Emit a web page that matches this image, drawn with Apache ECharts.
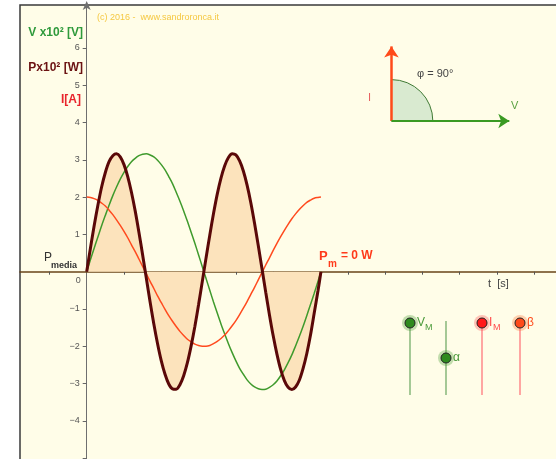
<!DOCTYPE html>
<html>
<head>
<meta charset="utf-8">
<script src="https://cdn.jsdelivr.net/npm/echarts@6/dist/echarts.min.js"></script>
<style>
  html, body { margin: 0; padding: 0; background: #ffffff; }
  #chart { width: 556px; height: 459px; }
</style>
</head>
<body>
<div id="chart"></div>
<script>
// Phase angle ωt in radians over one period
const phases = [0, 0.1, 0.2, 0.3, 0.4, 0.5, 0.6, 0.7, 0.8, 0.9, 1.0, 1.1, 1.2, 1.3, 1.4, 1.5,
  1.6, 1.7, 1.8, 1.9, 2.0, 2.1, 2.2, 2.3, 2.4, 2.5, 2.6, 2.7, 2.8, 2.9, 3.0, 3.1,
  3.2, 3.3, 3.4, 3.5, 3.6, 3.7, 3.8, 3.9, 4.0, 4.1, 4.2, 4.3, 4.4, 4.5, 4.6, 4.7,
  4.8, 4.9, 5.0, 5.1, 5.2, 5.3, 5.4, 5.5, 5.6, 5.7, 5.8, 5.9, 6.0, 6.1, 6.2, 6.28];
// Voltage (x10^2 V)
const voltage = [0, 0.32, 0.63, 0.93, 1.23, 1.51, 1.78, 2.04, 2.27, 2.48, 2.66, 2.82, 2.95, 3.04, 3.11, 3.15,
  3.16, 3.13, 3.08, 2.99, 2.87, 2.73, 2.55, 2.36, 2.13, 1.89, 1.63, 1.35, 1.06, 0.76, 0.45, 0.13,
  -0.18, -0.50, -0.81, -1.11, -1.40, -1.67, -1.93, -2.17, -2.39, -2.59, -2.75, -2.90, -3.01, -3.09, -3.14, -3.16,
  -3.15, -3.10, -3.03, -2.93, -2.79, -2.63, -2.44, -2.23, -1.99, -1.74, -1.47, -1.18, -0.88, -0.58, -0.26, 0];
// Current (A)
const current = [2.00, 1.99, 1.96, 1.91, 1.84, 1.76, 1.65, 1.53, 1.39, 1.24, 1.08, 0.91, 0.72, 0.54, 0.34, 0.14,
  -0.06, -0.26, -0.45, -0.65, -0.83, -1.01, -1.18, -1.33, -1.47, -1.60, -1.71, -1.81, -1.88, -1.94, -1.98, -2.00,
  -2.00, -1.98, -1.93, -1.87, -1.79, -1.70, -1.58, -1.45, -1.31, -1.15, -0.98, -0.80, -0.61, -0.42, -0.22, -0.02,
  0.18, 0.37, 0.57, 0.76, 0.94, 1.11, 1.27, 1.42, 1.55, 1.67, 1.77, 1.86, 1.92, 1.97, 1.99, 2.00];
// Instantaneous power (x10^2 W)
const power = [0, 0.63, 1.23, 1.78, 2.27, 2.66, 2.95, 3.11, 3.16, 3.08, 2.87, 2.55, 2.13, 1.63, 1.06, 0.45,
  -0.18, -0.81, -1.40, -1.93, -2.39, -2.75, -3.01, -3.14, -3.15, -3.03, -2.79, -2.44, -1.99, -1.47, -0.88, -0.26,
  0.37, 0.98, 1.56, 2.08, 2.51, 2.84, 3.06, 3.16, 3.13, 2.97, 2.70, 2.32, 1.85, 1.30, 0.70, 0.08,
  -0.55, -1.16, -1.72, -2.21, -2.62, -2.92, -3.10, -3.16, -3.09, -2.91, -2.60, -2.20, -1.70, -1.11, -0.52, 0];

// Axis ticks
const xTicks = [-1, 1, 2, 3, 4, 5, 6, 7, 8, 9, 10, 11, 12];
const yTicks = [-5, -4, -3, -2, -1, 1, 2, 3, 4, 5, 6];
const yTickLabels = [-4, -3, -2, -1, 1, 2, 3, 4, 5, 6];

// Phasor diagram: peak values and origin (axis units)
const V_M = 3.16;
const I_M = 2;
const phasorOrigin = [8.17, 4.04];
const arcRadius = 1.11;

const pair = arr => phases.map((t, i) => [t, arr[i]]);
const FONT = '"Liberation Sans", Arial, sans-serif';
const minus = v => (v < 0 ? '\u2212' + Math.abs(v) : String(v));

// plot area geometry
const GRID = { left: 20, top: 5, width: 546, height: 464 };
const X_MIN = -1.788, X_MAX = 12.85, Y_MIN = -5.29, Y_MAX = 7.15;
// shift the axes from the grid edges onto the origin
const yAxisOffset = -GRID.width * (0 - X_MIN) / (X_MAX - X_MIN);
const xAxisOffset = -GRID.height * (0 - Y_MIN) / (Y_MAX - Y_MIN);

const chart = echarts.init(document.getElementById('chart'), null, { renderer: 'canvas' });

const txt = (text, x, y, fill, font, align) => ({
  type: 'text', silent: true, z: 100,
  style: { text, x, y, fill, font: font + ' ' + FONT, textAlign: align || 'left', textVerticalAlign: 'middle' }
});

// slider widget: track line, knob with halo, label with optional subscript
function slider(x, knobY, trackTop, trackBottom, lineColor, knobColor, haloColor, label, sub, subDx, labelColor) {
  const els = [
    { type: 'line', silent: true, z: 90, shape: { x1: x, y1: trackTop, x2: x, y2: trackBottom },
      style: { stroke: lineColor, lineWidth: 1.6 } },
    { type: 'circle', silent: true, z: 91, shape: { cx: x, cy: knobY, r: 8 }, style: { fill: haloColor } },
    { type: 'circle', silent: true, z: 92, shape: { cx: x, cy: knobY, r: 5 },
      style: { fill: knobColor, stroke: '#222', lineWidth: 1 } },
    txt(label, x + 7, knobY, labelColor, '12px', 'left')
  ];
  if (sub) els.push(txt(sub, x + subDx, knobY + 5, labelColor, '9px', 'left'));
  return els;
}

const option = {
  animation: false,
  backgroundColor: '#ffffff',
  textStyle: { fontFamily: FONT },
  grid: Object.assign({
    outerBoundsMode: 'none', containLabel: false,
    show: true, backgroundColor: '#fffde8', borderColor: '#3a3a3a', borderWidth: 1.5
  }, GRID),
  xAxis: {
    type: 'value', min: X_MIN, max: X_MAX, position: 'bottom', offset: xAxisOffset,
    axisLine: { onZero: false, lineStyle: { color: '#6a4418', width: 1.5 } },
    axisTick: { show: true, customValues: xTicks, length: 3, lineStyle: { color: '#555' } },
    axisLabel: { customValues: [0], formatter: () => '0', color: '#555', fontSize: 9, margin: 4,
      align: 'right', padding: [0, 6, 0, 0], hideOverlap: false },
    splitLine: { show: false }
  },
  yAxis: {
    type: 'value', min: Y_MIN, max: Y_MAX, position: 'left', offset: yAxisOffset,
    axisLine: { onZero: false, symbol: ['none', 'arrow'], symbolSize: [6, 9], symbolOffset: [0, 4],
      lineStyle: { color: '#6f6f6f', width: 1 } },
    axisTick: { show: true, customValues: yTicks, length: 4, lineStyle: { color: '#666' } },
    axisLabel: { customValues: yTickLabels, formatter: minus, color: '#555', fontSize: 9, margin: 7,
      hideOverlap: false },
    splitLine: { show: false }
  },
  series: [
    { // shaded power area
      name: 'P area', type: 'line', data: pair(power), smooth: 0.3, symbol: 'none',
      lineStyle: { width: 0 }, areaStyle: { color: '#fce3bc', opacity: 1, origin: 0 }, z: 2
    },
    {
      name: 'V', type: 'line', data: pair(voltage), smooth: 0.3, symbol: 'none',
      lineStyle: { color: '#3f9a2c', width: 1.5 }, z: 3
    },
    {
      name: 'I', type: 'line', data: pair(current), smooth: 0.3, symbol: 'none',
      lineStyle: { color: '#ff4a1e', width: 1.5 }, z: 3
    },
    {
      name: 'P', type: 'line', data: pair(power), smooth: 0.3, symbol: 'none',
      lineStyle: { color: '#5a0808', width: 3 }, z: 4
    },
    { // phase-angle sector between the phasors
      name: 'phi', type: 'custom', z: 5, silent: true,
      data: [[phasorOrigin[0], phasorOrigin[1], arcRadius]],
      renderItem: (params, api) => {
        const c = api.coord([api.value(0), api.value(1)]);
        const r = api.size([api.value(2), api.value(2)])[0];
        return {
          type: 'sector',
          shape: { cx: c[0], cy: c[1], r0: 0, r: r, startAngle: -Math.PI / 2, endAngle: 0, clockwise: true },
          style: { fill: '#d9ead0', stroke: '#3f7a34', lineWidth: 1 }
        };
      }
    },
    { // phasors I (vertical) and V (horizontal)
      name: 'phasors', type: 'lines', coordinateSystem: 'cartesian2d', z: 6, silent: true,
      symbol: ['none', 'arrow'], symbolSize: 11,
      data: [
        { coords: [phasorOrigin, [phasorOrigin[0], phasorOrigin[1] + I_M]],
          lineStyle: { color: '#ff4a1a', width: 2.5 } },
        { coords: [phasorOrigin, [phasorOrigin[0] + V_M, phasorOrigin[1]]],
          lineStyle: { color: '#3a9a22', width: 2 } }
      ],
      lineStyle: { opacity: 1, curveness: 0 }
    }
  ],
  graphic: [
    txt('(c) 2016 -  www.sandroronca.it', 97, 18, '#f5c842', '9px'),
    txt('V x10\u00b2 [V]', 83, 33, '#2f9a3c', 'bold 12px', 'right'),
    txt('Px10\u00b2 [W]', 83, 68, '#6b1212', 'bold 12px', 'right'),
    txt('I[A]', 81, 100, '#e8242c', 'bold 12px', 'right'),
    txt('P', 44, 258, '#333333', '12px'),
    txt('media', 51, 266, '#333333', 'bold 9px'),
    txt('P', 319, 256, '#ff3a1a', 'bold 13px'),
    txt('m', 328, 264, '#ff3a1a', 'bold 10px'),
    txt('= 0 W', 341, 256, '#ff3a1a', 'bold 12px'),
    txt('t  [s]', 488, 284, '#444444', '11px'),
    txt('\u03c6 = 90\u00b0', 417, 74, '#444444', '11px'),
    txt('I', 368, 98, '#e86060', '11px'),
    txt('V', 511, 106, '#5aa040', '11px'),
    ...slider(410, 323, 323, 395, '#8fbb80', '#2e8a1e', 'rgba(80,160,60,0.35)', 'V', 'M', 15, '#4a9a3a'),
    ...slider(446, 358, 321, 395, '#8fbb80', '#2e8a1e', 'rgba(80,160,60,0.35)', '\u03b1', '', 0, '#4a9a3a'),
    ...slider(482, 323, 323, 395, '#ff9090', '#ff1a1a', 'rgba(255,90,90,0.35)', 'I', 'M', 11, '#ff4a4a'),
    ...slider(520, 323, 323, 395, '#ff9090', '#ff4a1a', 'rgba(255,120,60,0.35)', '\u03b2', '', 0, '#ff4a1a')
  ]
};

chart.setOption(option);
</script>
</body>
</html>
